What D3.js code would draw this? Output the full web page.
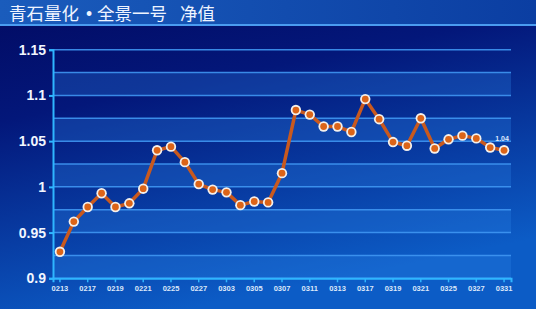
<!DOCTYPE html>
<html><head><meta charset="utf-8">
<script src="https://cdn.jsdelivr.net/npm/d3@7/dist/d3.min.js"></script>
<style>html,body{margin:0;padding:0;overflow:hidden;background:#03106a}</style>
</head><body>
<svg id="c" width="536" height="309"></svg>
<script>
const titleParts = ["青石量化", "•", "全景一号", "净值"];
const dates = ["0213","0214","0217","0218","0219","0220","0221","0224","0225","0226","0227","0228",
  "0303","0304","0305","0306","0307","0310","0311","0312","0313","0314","0317","0318","0319","0320",
  "0321","0324","0325","0326","0327","0328","0331"];
const nav = [0.929,0.962,0.978,0.993,0.978,0.982,0.998,1.040,1.044,1.027,1.003,0.997,
  0.994,0.980,0.984,0.983,1.015,1.084,1.079,1.066,1.066,1.060,1.096,1.074,1.049,1.045,
  1.075,1.042,1.052,1.056,1.053,1.043,1.040];
const yTicks = [0.9,0.95,1,1.05,1.1,1.15];
const lastLabel = "1.04";

const svg = d3.select("#c");
const W = 536, H = 309;
const defs = svg.append("defs");
const bg = defs.append("linearGradient").attr("id","bg").attr("x1","0").attr("y1","0").attr("x2","0.35").attr("y2","1");
bg.append("stop").attr("offset","0").attr("stop-color","#020a62");
bg.append("stop").attr("offset","0.35").attr("stop-color","#03177a");
bg.append("stop").attr("offset","1").attr("stop-color","#0c5cc6");
svg.append("rect").attr("width",W).attr("height",H).attr("fill","url(#bg)");

const tb = defs.append("linearGradient").attr("id","tb").attr("x1","0").attr("y1","0").attr("x2","1").attr("y2","0");
tb.append("stop").attr("offset","0").attr("stop-color","#1a5cbc");
tb.append("stop").attr("offset","1").attr("stop-color","#0b3ea2");
svg.append("rect").attr("width",W).attr("height",25).attr("fill","url(#tb)");
svg.append("rect").attr("y",24).attr("width",W).attr("height",2).attr("fill","#4a9cf0");
const titleX = [9, 89, 97, 180];
titleParts.forEach((p,i) => {
  svg.append("text").attr("x",titleX[i]).attr("y",19.5).attr("fill","#eef4ff")
    .attr("font-family", i===1 ? "Liberation Sans" : "Noto Sans CJK SC")
    .attr("font-size",17.5).attr("text-anchor", i===1 ? "middle" : "start").text(p);
});

const L = 53, R = 511, T = 49.7, B = 278.3;
const x = d3.scaleBand().domain(dates).range([L, R]).paddingInner(0).paddingOuter(0);
const cx = d => x(d) + x.bandwidth()/2;
const y = d3.scaleLinear().domain([0.9,1.15]).range([B, T]);

// bands
const bandEdges = d3.range(0, 10).map(i => 0.9 + i*0.025);
bandEdges.forEach((v,i) => {
  if (i % 2 === 0) {
    svg.append("rect").attr("x",L).attr("width",R-L)
      .attr("y",y(v+0.025)).attr("height",y(v)-y(v+0.025))
      .attr("fill","#2a80e4").attr("fill-opacity",0.3);
  }
});
// grid lines
d3.range(0, 11).map(i => 0.9 + i*0.025).forEach(v => {
  svg.append("line").attr("x1",L).attr("x2",R).attr("y1",y(v)).attr("y2",y(v))
    .attr("stroke","#3f96f2").attr("stroke-width",1.5).attr("stroke-opacity",0.9);
});

// axes
const yAxis = d3.axisLeft(y).tickValues(yTicks).tickFormat(d => d3.format("")(+d.toFixed(2))).tickSize(4).tickPadding(3);
const gy = svg.append("g").attr("transform",`translate(${L},0)`).call(yAxis);
gy.select(".domain").attr("stroke","#2fb6ff").attr("stroke-width",2);
gy.selectAll(".tick line").attr("stroke","#2fb6ff").attr("stroke-width",2);
gy.selectAll(".tick text").attr("fill","#f2f6ff").attr("font-family","Liberation Sans, Arial")
  .attr("font-weight","bold").attr("font-size",14);

const xAxis = d3.axisBottom(x).tickValues(dates.filter((d,i)=>i%2===0)).tickSize(4).tickPadding(3);
const gx = svg.append("g").attr("transform",`translate(0,${B})`).call(xAxis);
gx.select(".domain").attr("stroke","#2fb6ff").attr("stroke-width",2);
gx.selectAll(".tick line").attr("stroke","#2fb6ff").attr("stroke-width",1.5);
gx.selectAll(".tick text").attr("fill","#dce8fa").attr("font-family","Liberation Sans, Arial")
  .attr("font-weight","bold").attr("font-size",7.5);

// line
const line = d3.line().x((d,i)=>cx(dates[i])).y(d=>y(d));
svg.append("path").datum(nav).attr("d",line).attr("fill","none")
  .attr("stroke","#c9591e").attr("stroke-width",3.5).attr("stroke-linejoin","round");
svg.selectAll("circle.o").data(nav).enter().append("circle")
  .attr("cx",(d,i)=>cx(dates[i])).attr("cy",d=>y(d)).attr("r",5.2).attr("fill","#f4f0ec");
svg.selectAll("circle.i").data(nav).enter().append("circle")
  .attr("cx",(d,i)=>cx(dates[i])).attr("cy",d=>y(d)).attr("r",3.4).attr("fill","#dc6418");

svg.append("text").attr("x",cx(dates[dates.length-1])-2).attr("y",y(nav[nav.length-1])-9)
  .attr("text-anchor","middle").attr("fill","#dfeaff").attr("font-family","Liberation Sans, Arial")
  .attr("font-weight","bold").attr("font-size",7).text(lastLabel);
</script>
</body></html>
